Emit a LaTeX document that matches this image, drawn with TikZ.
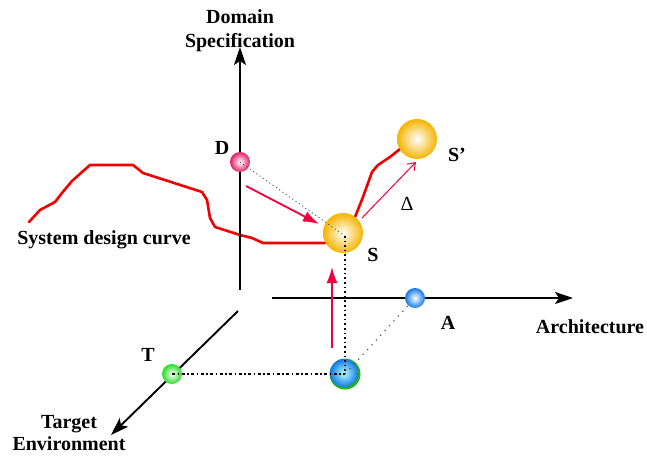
\documentclass[tikz,border=0pt]{standalone}
\usepackage{fontspec}
\setmainfont{Liberation Serif}
\usetikzlibrary{arrows.meta}
\definecolor{goldball}{RGB}{245,180,0}
\definecolor{pinkball}{RGB}{225,30,100}
\definecolor{blueball}{RGB}{20,120,230}
\definecolor{greenball}{RGB}{40,220,40}
\definecolor{curvered}{RGB}{240,0,0}
\definecolor{arrowred}{RGB}{240,0,60}

\begin{document}
\begin{tikzpicture}[x=1pt,y=-1pt,
    lbl/.style={font=\fontsize{20}{24}\selectfont\bfseries,align=center},
    axisline/.style={line width=1.9pt,-{Stealth[length=18pt,width=12pt,inset=4pt]}},
    ball/.style 2 args={circle,inner sep=0pt,minimum size=#1,shading=radial,inner color=white,outer color=#2},
    designcurve/.style={curvered,line width=2.6pt,line join=round,line cap=round},
    bigarrow/.style={arrowred,line width=1.8pt,-{Latex[length=16pt,width=11pt]}}]
  \useasboundingbox (0,0) rectangle (647,457);

  % system design curve
  \draw[designcurve] (29,222) -- (40,210) -- (55,202) -- (62,193) -- (72,181) -- (90,165)
     -- (133,165) -- (143,173) -- (202,192) -- (207,200) -- (210,218) -- (215,227)
     -- (240,235) -- (252,238) -- (263,243) -- (325,243);
  \draw[designcurve] (355,217) -- (363,197) -- (372,172) -- (378,165) -- (390,157) -- (400,149);
  \node[lbl] (sdc) at (104,240) {System design curve};

  % axes
  \coordinate (o1) at (240,290);
  \coordinate (o2) at (272,298);
  \coordinate (o3) at (238,311);
  \node[lbl] (dom) at (240,31) {Domain\\Specification};
  \node[lbl,font=\fontsize{20}{22}\selectfont\bfseries] (tgt) at (69,433) {Target\\Environment};
  \node[lbl] (arch) at (590,327) {Architecture};
  \draw[axisline] (o1) -- (240,47);
  \draw[axisline] (o2) -- (573,298);
  \draw[axisline] (o3) -- (111,435);

  % the points
  \node[ball={20pt}{pinkball}] (d) at (240,162) {};
  \node[ball={40pt}{goldball}] (s) at (343,233) {};
  \node[ball={40pt}{goldball}] (s2) at (417,139) {};
  \node[ball={20pt}{blueball}] (a) at (415,298) {};
  \node[ball={20pt}{greenball}] (t) at (172,374) {};
  \node[circle,fill=greenball!80!black,inner sep=0pt,minimum size=31pt] (bot) at (345,374) {};
  \node[ball={28pt}{blueball},inner color=cyan!30] at (344,373) {};

  \node[lbl] at (222,148) {D};
  \node[lbl] at (373,255) {S};
  \node[lbl] at (457,155) {S’};
  \node[lbl] at (448,323) {A};
  \node[lbl] at (148,355) {T};
  \node[font=\fontsize{20}{24}\selectfont] at (407,204) {Δ};

  % projections
  \coordinate (sc) at (345,236);
  \draw[gray!70!black,line width=1pt,dash pattern=on 1pt off 3pt] (d.center) -- (sc);
  \draw[line width=1.6pt,dash pattern=on 1.6pt off 3pt] (sc) -- (bot.center);
  \draw[line width=1.6pt,dash pattern=on 3pt off 2.5pt on 1.5pt off 2.5pt] (t.center) -- (bot.center);
  \draw[gray!70!black,line width=1pt,dash pattern=on 1.5pt off 5pt] (bot.center) -- (a);

  % moves
  \coordinate (m1) at (246,186);
  \coordinate (m2) at (319,224);
  \coordinate (m3) at (332,348);
  \coordinate (m4) at (332,267);
  \coordinate (m5) at (362,218);
  \coordinate (m6) at (416,162);
  \draw[bigarrow] (m1) -- (m2);
  \draw[bigarrow] (m3) -- (m4);
  \draw[arrowred,line width=1pt,-{Straight Barb[length=7pt,width=10pt]}] (m5) -- (m6);
\end{tikzpicture}
\end{document}
